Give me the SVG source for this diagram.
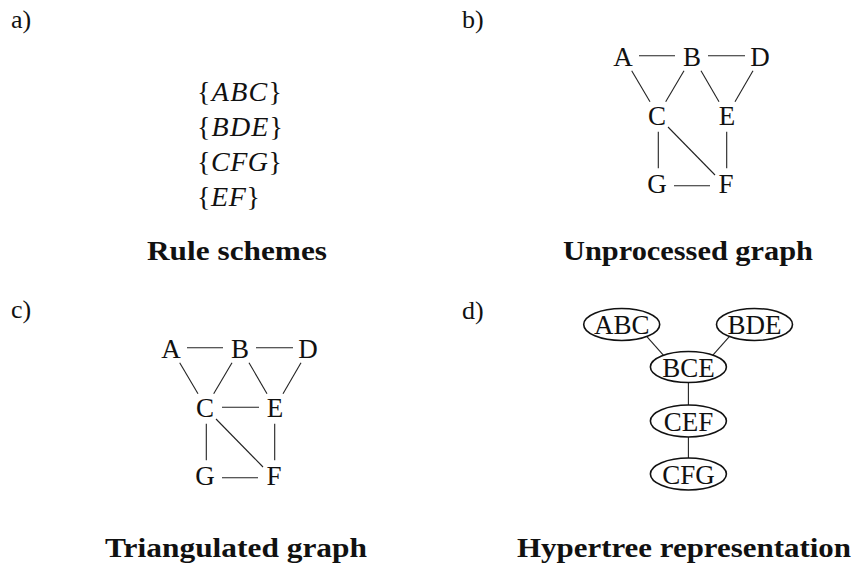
<svg xmlns="http://www.w3.org/2000/svg" width="863" height="567" viewBox="0 0 863 567">
<style>
text { font-family: "Liberation Serif", "Times New Roman", serif; fill: #111; }
.lbl { font-size: 26px; }
.set { font-size: 28px; }
.it { font-style: italic; }
.title { font-size: 27px; font-weight: bold; }
.v { font-size: 27px; text-anchor: middle; }
.hv { font-size: 27px; text-anchor: middle; }
.edge { stroke: #222; stroke-width: 1.1; fill: none; }
.ell { stroke: #111; stroke-width: 1.6; fill: #fff; }
</style>
<rect width="863" height="567" fill="#fff"/>

<!-- panel labels -->
<text class="lbl" x="11" y="28">a)</text>
<text class="lbl" x="462" y="28">b)</text>
<text class="lbl" x="11" y="318">c)</text>
<text class="lbl" x="462" y="319">d)</text>

<!-- panel a: rule schemes -->
<g id="rules">
<text class="set" x="197" y="101" textLength="85" lengthAdjust="spacing">{<tspan class="it">ABC</tspan>}</text>
<text class="set" x="197" y="136" textLength="86" lengthAdjust="spacing">{<tspan class="it">BDE</tspan>}</text>
<text class="set" x="197" y="171" textLength="85" lengthAdjust="spacing">{<tspan class="it">CFG</tspan>}</text>
<text class="set" x="197" y="206" textLength="63" lengthAdjust="spacing">{<tspan class="it">EF</tspan>}</text>
</g>

<!-- titles -->
<text class="title" x="147" y="260" textLength="180" lengthAdjust="spacingAndGlyphs">Rule schemes</text>
<text class="title" x="563" y="260" textLength="250" lengthAdjust="spacingAndGlyphs">Unprocessed graph</text>
<text class="title" x="105" y="557" textLength="262" lengthAdjust="spacingAndGlyphs">Triangulated graph</text>
<text class="title" x="517" y="557" textLength="334" lengthAdjust="spacingAndGlyphs">Hypertree representation</text>

<!-- connectors -->
<g id="connectors">
  <!-- panel b -->
  <g id="edges-b">
    <line class="edge" x1="639" y1="55.7" x2="675" y2="55.7"/>
    <line class="edge" x1="708" y1="55.7" x2="745" y2="55.7"/>
    <line class="edge" x1="631.7" y1="70.7" x2="650" y2="101.7"/>
    <line class="edge" x1="684" y1="70.7" x2="665.7" y2="101.7"/>
    <line class="edge" x1="701" y1="70.7" x2="719" y2="101.7"/>
    <line class="edge" x1="753" y1="70.7" x2="735" y2="101.7"/>
    <line class="edge" x1="658.3" y1="131.7" x2="658.3" y2="168.3"/>
    <line class="edge" x1="668" y1="127" x2="715" y2="175"/>
    <line class="edge" x1="726.7" y1="131.7" x2="726.7" y2="168.3"/>
    <line class="edge" x1="674" y1="185.7" x2="710" y2="185.7"/>
  </g>
  <!-- panel c -->
  <g id="edges-c" transform="translate(-452,292)">
    <line class="edge" x1="639" y1="55.7" x2="675" y2="55.7"/>
    <line class="edge" x1="708" y1="55.7" x2="745" y2="55.7"/>
    <line class="edge" x1="631.7" y1="70.7" x2="650" y2="101.7"/>
    <line class="edge" x1="684" y1="70.7" x2="665.7" y2="101.7"/>
    <line class="edge" x1="701" y1="70.7" x2="719" y2="101.7"/>
    <line class="edge" x1="753" y1="70.7" x2="735" y2="101.7"/>
    <line class="edge" x1="674" y1="115.3" x2="711" y2="115.3"/>
    <line class="edge" x1="658.3" y1="131.7" x2="658.3" y2="168.3"/>
    <line class="edge" x1="668" y1="127" x2="715" y2="175"/>
    <line class="edge" x1="726.7" y1="131.7" x2="726.7" y2="168.3"/>
    <line class="edge" x1="674" y1="185.7" x2="710" y2="185.7"/>
  </g>
  <!-- panel d -->
  <g id="edges-d">
    <line class="edge" x1="640" y1="328.9" x2="670" y2="362.6"/>
    <line class="edge" x1="736.2" y1="328.9" x2="706.2" y2="362.6"/>
    <line class="edge" x1="688.4" y1="380" x2="688.4" y2="408"/>
    <line class="edge" x1="688.4" y1="434" x2="688.4" y2="461"/>
  </g>
</g>

<!-- panel b nodes -->
<g id="b-A"><text class="v" x="623" y="66">A</text></g>
<g id="b-B"><text class="v" x="692" y="66">B</text></g>
<g id="b-D"><text class="v" x="760" y="66">D</text></g>
<g id="b-C"><text class="v" x="657" y="125">C</text></g>
<g id="b-E"><text class="v" x="727" y="125">E</text></g>
<g id="b-G"><text class="v" x="657" y="193">G</text></g>
<g id="b-F"><text class="v" x="726" y="193">F</text></g>

<!-- panel c nodes -->
<g id="c-A"><text class="v" x="171" y="358">A</text></g>
<g id="c-B"><text class="v" x="240" y="358">B</text></g>
<g id="c-D"><text class="v" x="308" y="358">D</text></g>
<g id="c-C"><text class="v" x="205" y="417">C</text></g>
<g id="c-E"><text class="v" x="275" y="417">E</text></g>
<g id="c-G"><text class="v" x="205" y="485">G</text></g>
<g id="c-F"><text class="v" x="274" y="485">F</text></g>

<!-- panel d nodes -->
<g id="d-ABC"><ellipse class="ell" cx="621.7" cy="324.5" rx="38" ry="16"/><text class="hv" x="621.7" y="334">ABC</text></g>
<g id="d-BDE"><ellipse class="ell" cx="754.5" cy="324.5" rx="38" ry="16"/><text class="hv" x="754.5" y="334">BDE</text></g>
<g id="d-BCE"><ellipse class="ell" cx="688.4" cy="367" rx="38" ry="15.5"/><text class="hv" x="688.4" y="376.5">BCE</text></g>
<g id="d-CEF"><ellipse class="ell" cx="688.4" cy="421" rx="38" ry="16"/><text class="hv" x="688.4" y="430.5">CEF</text></g>
<g id="d-CFG"><ellipse class="ell" cx="688.4" cy="474" rx="38" ry="16"/><text class="hv" x="688.4" y="483.5">CFG</text></g>
</svg>
